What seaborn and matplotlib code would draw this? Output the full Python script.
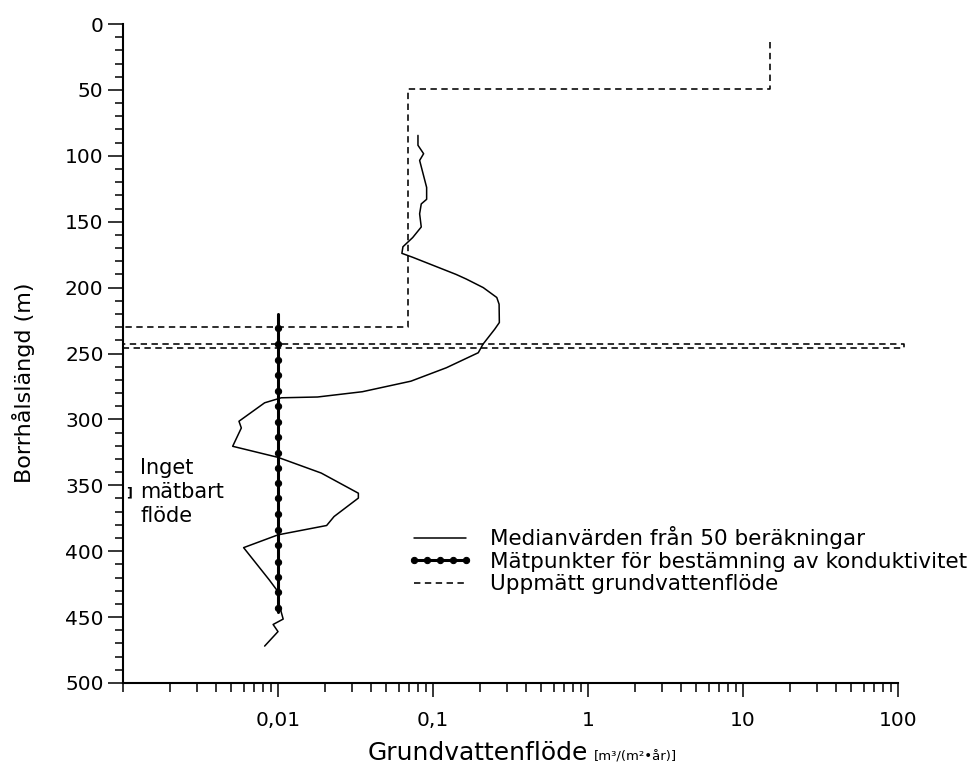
import numpy as np
import matplotlib.pyplot as plt
import matplotlib.ticker as mticker
import seaborn as sns

# Medianvärden från 50 beräkningar
med_depth = [84.5, 92, 98.4, 103.5, 124, 133, 136.5, 144, 154, 162,
             169, 174, 177, 190, 193.5, 200, 207.5, 212.6, 226.5, 231.6,
             243, 249.4, 260.8, 271, 279, 283, 283.6, 287.4, 301.4, 306.5,
             320.4, 328.8, 340.7, 356, 359.7, 373.7, 380.5, 387.6, 397.3, 421.9,
             430.7, 441, 451.5, 455.6, 461, 472]
med_flow = [0.080, 0.080, 0.087, 0.082, 0.091, 0.091, 0.084, 0.082, 0.084, 0.074,
            0.064, 0.063, 0.074, 0.141, 0.164, 0.211, 0.258, 0.267, 0.268, 0.25,
            0.21, 0.196, 0.122, 0.072, 0.035, 0.018, 0.0105, 0.0082, 0.0056, 0.0058,
            0.0051, 0.010, 0.019, 0.033, 0.033, 0.023, 0.0206, 0.010, 0.006, 0.0088,
            0.010, 0.0102, 0.0108, 0.0093, 0.010, 0.0082]

# Mätpunkter för bestämning av konduktivitet (linjen börjar/slutar utan punkt)
mat_depth = [220, 231, 243, 255, 266.5, 278.5, 290, 302, 313.5, 325.5, 337,
             348, 360, 372, 384, 395.6, 408, 419.5, 431, 443, 446]
mat_flow = [0.01, 0.01, 0.01, 0.01, 0.01, 0.01, 0.01, 0.01, 0.01, 0.01, 0.01,
            0.01, 0.01, 0.01, 0.01, 0.01, 0.01, 0.01, 0.01, 0.01, 0.01]

# Uppmätt grundvattenflöde (trappstegsprofil)
upp_depth = [14, 49, 49, 230, 230, 242.5, 242.5, 246, 246]
upp_flow = [15, 15, 0.069, 0.069, 0.001, 0.001, 110, 110, 0.001]

labels = ["Medianvärden från 50 beräkningar",
          "Mätpunkter för bestämning av konduktivitet",
          "Uppmätt grundvattenflöde"]

x_ticks = [0.01, 0.1, 1, 10, 100]
x_ticklabels = ["0,01", "0,1", "1", "10", "100"]
y_ticks = [0, 50, 100, 150, 200, 250, 300, 350, 400, 450, 500]

sns.set_style("ticks")
plt.rcParams['font.family'] = ['DejaVu Sans']
plt.rcParams['text.color'] = 'black'
plt.rcParams['axes.labelcolor'] = 'black'

fig = plt.figure(figsize=(9.77, 7.70), dpi=100)
ax = fig.add_axes([0.1259, 0.1130, 0.7932, 0.8558])
ax.set_xscale('log')

sns.lineplot(x=med_flow, y=med_depth, sort=False, estimator=None, color='black',
             lw=1.1, label=labels[0], ax=ax)
sns.lineplot(x=mat_flow, y=mat_depth, sort=False, estimator=None, color='black',
             lw=2.2, marker='o', ms=4.5, mec='black', mfc='black',
             markevery=slice(1, -1), label=labels[1], ax=ax)
sns.lineplot(x=upp_flow, y=upp_depth, sort=False, estimator=None, color='black',
             lw=1.15, linestyle=(0, (4, 2.8)), clip_on=False, label=labels[2], ax=ax)

ax.set_xlim(0.001, 100)
ax.set_ylim(500, 0)
ax.xaxis.set_major_locator(mticker.FixedLocator(x_ticks))
ax.xaxis.set_major_formatter(mticker.FixedFormatter(x_ticklabels))
ax.xaxis.set_minor_locator(mticker.LogLocator(base=10, subs=np.arange(1, 10), numticks=20))
ax.xaxis.set_minor_formatter(mticker.NullFormatter())
ax.yaxis.set_major_locator(mticker.FixedLocator(y_ticks))
ax.yaxis.set_minor_locator(mticker.MultipleLocator(10))

sns.despine(ax=ax)
for s in ['left', 'bottom']:
    ax.spines[s].set_linewidth(1.5)
    ax.spines[s].set_color('black')
ax.tick_params(axis='y', which='major', length=10.5, width=1.1, pad=3.5,
               labelsize=14.5, colors='black')
ax.tick_params(axis='y', which='minor', length=5.8, width=1.1, colors='black')
ax.tick_params(axis='x', which='major', length=10, width=1.1, pad=10,
               labelsize=14.5, colors='black')
ax.tick_params(axis='x', which='minor', length=6.5, width=1.1, colors='black')

ax.set_xlabel("")
ax.set_ylabel("Borrhålslängd (m)", fontsize=16)
ax.yaxis.set_label_coords(-0.113, 0.455)

fig.text(588 / 977, 1 - 760 / 770, "Grundvattenflöde", fontsize=18,
         ha='right', va='baseline')
fig.text(594 / 977, 1 - 760 / 770, "[m³/(m²•år)]", fontsize=9.5,
         ha='left', va='baseline')

# Inget mätbart flöde
ax.text(0.00129, 341.7, "Inget", fontsize=15, va='baseline', ha='left')
ax.text(0.00129, 360, "mätbart", fontsize=15, va='baseline', ha='left')
ax.text(0.00129, 377.5, "flöde", fontsize=15, va='baseline', ha='left')
ax.text(0.00104, 355.5, "]", fontsize=9, fontweight='bold', va='center', ha='left')

ax.legend(loc='upper left', bbox_to_anchor=(0.3677, 0.238), frameon=False,
          fontsize=15.5, handlelength=3.0, handletextpad=0.8, labelspacing=0.12,
          borderpad=0, borderaxespad=0, numpoints=5)

fig.savefig("out.png", dpi=100)
